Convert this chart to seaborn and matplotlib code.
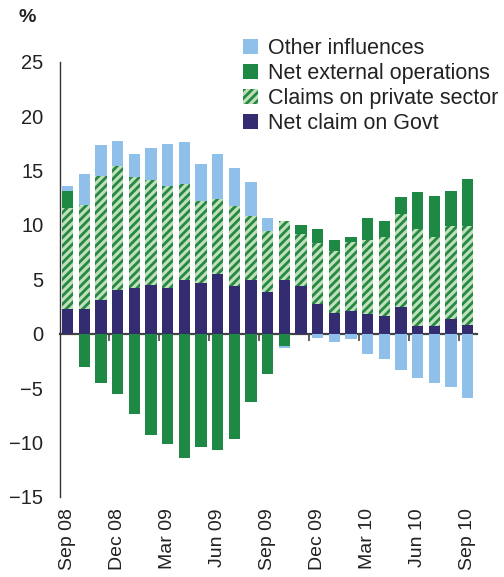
import numpy as np
import pandas as pd
import seaborn as sns
import matplotlib.pyplot as plt
from matplotlib.patches import Patch

months = ['Sep 08', 'Oct 08', 'Nov 08', 'Dec 08', 'Jan 09', 'Feb 09', 'Mar 09',
          'Apr 09', 'May 09', 'Jun 09', 'Jul 09', 'Aug 09', 'Sep 09', 'Oct 09',
          'Nov 09', 'Dec 09', 'Jan 10', 'Feb 10', 'Mar 10', 'Apr 10', 'May 10',
          'Jun 10', 'Jul 10', 'Aug 10', 'Sep 10']
govt = [2.3, 2.3, 3.1, 4.0, 4.2, 4.5, 4.2, 4.9, 4.7, 5.5, 4.4, 4.9, 3.8,
        4.9, 4.4, 2.7, 1.9, 2.1, 1.8, 1.6, 2.5, 0.7, 0.7, 1.4, 0.8]
private = [9.3, 9.5, 11.4, 11.4, 10.2, 9.6, 9.4, 8.9, 7.5, 6.9, 7.3, 5.9, 5.6,
           5.5, 4.8, 5.6, 5.7, 6.3, 6.8, 7.3, 8.5, 8.9, 8.2, 8.5, 9.1]
external = [1.5, -3.1, -4.5, -5.5, -7.4, -9.3, -10.1, -11.4, -10.4, -10.7, -9.7,
            -6.3, -3.7, -1.1, 0.8, 1.3, 1.0, 0.5, 2.0, 1.5, 1.6, 3.4, 3.8, 3.2, 4.3]
other = [0.5, 2.9, 2.8, 2.3, 2.1, 3.0, 3.8, 3.8, 3.4, 4.1, 3.5, 3.1, 1.2,
         -0.2, 0.0, -0.4, -0.8, -0.5, -1.9, -2.3, -3.3, -4.1, -4.5, -4.9, -5.9]

tick_months = ['Sep 08', 'Dec 08', 'Mar 09', 'Jun 09', 'Sep 09', 'Dec 09',
               'Mar 10', 'Jun 10', 'Sep 10']

c_other = '#8fc0e9'
c_ext = '#1e8845'
c_priv = '#bfe0bf'
c_stripe = '#26893f'
c_govt = '#332c71'

sns.set_style('white')
plt.rcParams['font.family'] = ['Liberation Sans', 'DejaVu Sans']
plt.rcParams['hatch.linewidth'] = 2.0

# stack: positives upward, negatives downward
df = pd.DataFrame({'month': months, 'govt': govt, 'private': private,
                   'external': external, 'other': other})
df['top1'] = df['govt']
df['top2'] = df['top1'] + df['private']
df['top3'] = df['top2'] + df['external'].clip(lower=0)
df['top4'] = df['top3'] + df['other'].clip(lower=0)
df['neg1'] = df['external'].clip(upper=0)
df['neg2'] = df['neg1'] + df['other'].clip(upper=0)

fig = plt.figure(figsize=(5.04, 5.77), dpi=100)
ax = fig.add_axes([60 / 504, 1 - 497 / 577, 417 / 504, 435.3 / 577])

w = 0.68
layers = [('top4', c_other), ('top3', c_ext), ('top2', c_priv), ('top1', c_govt),
          ('neg2', c_other), ('neg1', c_ext)]
for col, color in layers:
    sns.barplot(data=df, x='month', y=col, order=months, color=color,
                width=w, errorbar=None, saturation=1, linewidth=0, ax=ax)
    if col == 'top2':
        for p in ax.containers[-1]:
            p.set_hatch('////')
            p.set_edgecolor(c_stripe)
            p.set_linewidth(0)

ax.set_xlim(-0.45, 24.57)
ax.set_ylim(-15, 25)
ax.set_yticks(range(-15, 30, 5))
ax.set_xlabel('')
ax.set_ylabel('')

pos = [months.index(m) for m in tick_months]
ax.set_xticks(pos)
ax.set_xticklabels(tick_months, rotation=90)
ax.tick_params(axis='x', length=0, pad=8, labelsize=14, colors='#222222')
ax.tick_params(axis='y', direction='out', length=5, width=1, color='#333333',
               labelsize=14.5, labelcolor='#222222', pad=7)

for s in ['top', 'right', 'bottom']:
    ax.spines[s].set_visible(False)
ax.spines['left'].set_color('#333333')
ax.spines['left'].set_linewidth(1)

# zero line with quarter separators
zero = ax.secondary_xaxis(15 / 40)
zero.set_xticks(np.arange(2.5, 24, 3))
zero.set_xticklabels([])
zero.tick_params(axis='x', direction='out', length=5, width=1.2, color='#444444')
zero.spines['bottom'].set_color('#444444')
zero.spines['bottom'].set_linewidth(1.6)

fig.text(27 / 504, 1 - 17 / 577, '%', ha='center', va='center',
         fontsize=14, fontweight='bold', color='#222222')

handles = [Patch(facecolor=c_other, linewidth=0),
           Patch(facecolor=c_ext, linewidth=0),
           Patch(facecolor=c_priv, edgecolor=c_stripe, hatch='////', linewidth=0),
           Patch(facecolor=c_govt, linewidth=0)]
labels = ['Other influences', 'Net external operations',
          'Claims on private sector', 'Net claim on Govt']
fig.legend(handles, labels, loc='upper left',
           bbox_to_anchor=(243 / 504, 1 - 38 / 577), bbox_transform=fig.transFigure,
           frameon=False, borderpad=0, borderaxespad=0, handlelength=0.7,
           handleheight=0.7, handletextpad=0.45, labelspacing=0.18, fontsize=15.5,
           labelcolor='#222222')

fig.savefig('out.png', dpi=100)
